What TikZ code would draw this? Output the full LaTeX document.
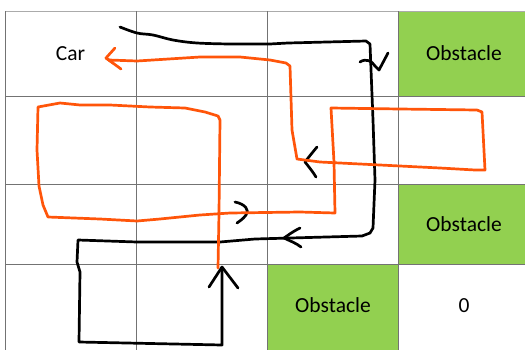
\documentclass[tikz,border=0pt]{standalone}
\usepackage{fontspec}
\setmainfont{Carlito}
\definecolor{gridgray}{RGB}{115,115,115}
\definecolor{obsgreen}{RGB}{146,208,80}
\definecolor{pathorange}{RGB}{255,85,10}
\tikzset{
  gridline/.style={draw=gridgray, line width=0.9pt},
  obstacle/.style={fill=obsgreen, draw=none},
  celltext/.style={font=\fontsize{21.5}{26}\selectfont, text=black, inner sep=0pt},
  blackpath/.style={draw=black, line width=2.7pt, line cap=round, line join=round},
  orangepath/.style={draw=pathorange, line width=2.7pt, line cap=round, line join=round},
}
\begin{document}
\begin{tikzpicture}[x=1pt, y=-1pt]
\useasboundingbox (0,0) rectangle (525,349);
\clip (0,0) rectangle (525,349);
% obstacle cells
\fill[obstacle] (398.5,11) rectangle (530,96);
\fill[obstacle] (398.5,184) rectangle (530,264);
\fill[obstacle] (267.5,264) rectangle (398.5,352);
% grid
\draw[draw=gridgray!60, line width=0.9pt] (5.3,11) -- (530,11);
\foreach \y in {96,184,264} \draw[gridline] (5.3,\y) -- (530,\y);
\foreach \x in {5.3,136.5,267.5,398.5} \draw[gridline] (\x,11) -- (\x,352);
% labels
\node[celltext] (car) at (70.5,53.5) {Car};
\node[celltext] (obs1) at (464,53.5) {Obstacle};
\node[celltext] (obs2) at (464,224.5) {Obstacle};
\node[celltext] (obs3) at (333,305.5) {Obstacle};
\node[celltext] (zero) at (464,305.5) {0};
% black path
\draw[blackpath] plot[smooth, tension=0.6] coordinates {(120,27) (137,33) (153,35) (173,40) (197,43) (230,44)}
  -- (270,44) -- (288,43) -- (366,41) -- (370,44) -- (373,120) -- (375,180) -- (373,228) -- (370,233) -- (362,236)
  -- (255,239) -- (220,242) -- (137,242) -- (78,240) -- (77,262) -- (80,272) -- (79,342) -- (222,345) -- (222,268);
% black direction marks
\draw[blackpath] (209,287) -- (222,267) -- (238,288);
\draw[blackpath] (300,228) .. controls (292,232) and (287,236) .. (284,238) .. controls (290,241) and (296,243) .. (301,247);
\draw[blackpath] (235,202) .. controls (245,204) and (250,210) .. (246,215) .. controls (243,219) and (240,221) .. (237,223);
\draw[blackpath] (317,147) .. controls (312,153) and (308,158) .. (305,162) .. controls (309,167) and (313,172) .. (316,177);
\draw[blackpath] (360,62) .. controls (366,58) and (372,61) .. (375,66) -- (379,70) -- (388,53);
% orange path
\draw[orangepath] (218,268) -- (219,213) -- (220,120) -- (218,116) -- (205,112) -- (185,108) -- (150,107)
  -- (110,105) -- (80,105) -- (60,103) -- (38,107) -- (37,150) -- (39,186) -- (43,205) -- (48,217)
  -- (100,219) -- (137,221) -- (160,219) -- (200,215) -- (230,213) -- (300,212) -- (335,213)
  -- (334,162) -- (331,108) -- (400,109) -- (477,110) -- (482,112) -- (485,170) -- (475,170)
  -- (440,168) -- (380,165) -- (320,162) -- (297,159) -- (292,130) -- (290,66) -- (286,63)
  -- (270,60) -- (240,57) -- (200,57) -- (137,61) -- (109,60);
\draw[orangepath] (115,48) -- (106,58) -- (121,69);
\draw[orangepath] (106,58) -- (113,63);
\end{tikzpicture}
\end{document}
